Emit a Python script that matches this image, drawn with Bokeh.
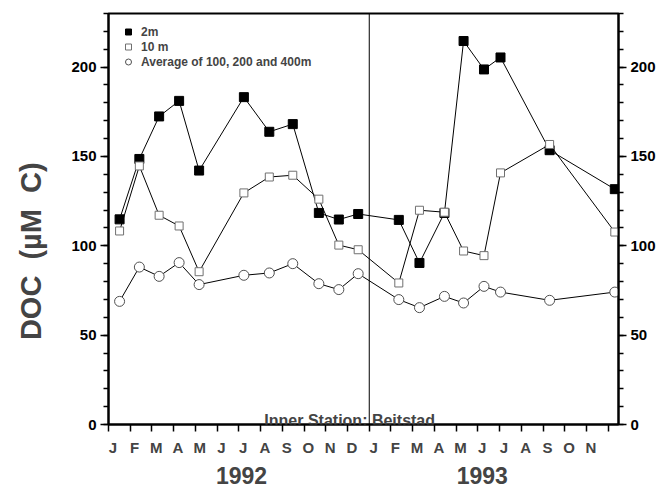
from bokeh.plotting import figure
from bokeh.models import (Range1d, LinearAxis, FixedTicker, CustomJSTickFormatter,
                          Span, Label, Legend, LegendItem)
from bokeh.embed import file_html
from bokeh.resources import INLINE

# ---- data (months counted from 1 Jan 1992) ----
months = [0.51, 1.42, 2.33, 3.25, 4.17, 6.23, 7.40, 8.48, 9.68, 10.60, 11.49,
          13.36, 14.31, 15.46, 16.34, 17.28, 18.04, 20.30, 23.30]
doc_2m = [114.8, 148.6, 172.4, 181.1, 142.1, 183.2, 163.8, 168.1, 118.4, 114.7, 117.8,
          114.5, 90.4, 118.4, 214.6, 198.7, 205.4, 153.5, 131.7]
doc_10m = [108.3, 144.7, 117.1, 111.1, 85.5, 129.6, 138.5, 139.5, 126.1, 100.4, 97.8,
           79.2, 119.9, 118.8, 97.1, 94.5, 140.8, 156.7, 107.7]
doc_deep = [68.9, 88.1, 82.9, 90.6, 78.3, 83.5, 84.8, 90.0, 78.8, 75.5, 84.4,
            69.9, 65.4, 71.7, 68.0, 77.3, 74.1, 69.5, 74.1]

month_labels = ["J", "F", "M", "A", "M", "J", "J", "A", "S", "O", "N", "D",
                "J", "F", "M", "A", "M", "J", "J", "A", "S", "O", "N"]
year_labels = ["1992", "1993"]
year_positions = [6.12, 17.2]
y_major = [0, 50, 100, 150, 200]
y_minor = list(range(0, 231, 10))
series_names = ["2m", "10 m", "Average of 100, 200 and 400m"]
NB = "\u00a0"
y_title = "DOC" + NB * 2 + "(µM" + NB * 2 + "C)" + NB * 8

FONT = "Liberation Sans"

p = figure(width=664, height=488, output_backend="svg", toolbar_location=None,
           x_range=Range1d(0, 23.47), y_range=Range1d(0, 230),
           x_axis_type=None, y_axis_type=None,
           min_border_left=108, min_border_right=46, min_border_top=13, min_border_bottom=64)
p.outline_line_color = "black"
p.outline_line_width = 2
p.background_fill_color = "white"
p.border_fill_color = "white"


def style_y(ax):
    ax.axis_line_width = 2
    ax.major_tick_out = 8
    ax.major_tick_in = 0
    ax.major_tick_line_width = 1.5
    ax.minor_tick_out = 5
    ax.minor_tick_in = 0
    ax.minor_tick_line_width = 1.5
    ax.major_label_standoff = 4
    ax.major_label_text_font = FONT
    ax.major_label_text_font_style = "bold"
    ax.major_label_text_font_size = "15px"
    ax.major_label_text_color = "black"


yl = LinearAxis(ticker=FixedTicker(ticks=y_major, minor_ticks=y_minor),
                axis_label=y_title)
style_y(yl)
yl.axis_label_text_font = FONT
yl.axis_label_text_font_style = "bold"
yl.axis_label_text_font_size = "29px"
yl.axis_label_standoff = 21
p.add_layout(yl, "left")

yr = LinearAxis(ticker=FixedTicker(ticks=y_major, minor_ticks=y_minor))
style_y(yr)
p.add_layout(yr, "right")

xb = LinearAxis(
    ticker=FixedTicker(ticks=[i + 0.2 for i in range(len(month_labels))],
                       minor_ticks=list(range(24))),
    formatter=CustomJSTickFormatter(args=dict(labels=month_labels),
                                    code="const i = Math.round(tick - 0.2); return (i >= 0 && i < labels.length) ? labels[i] : '';"))
xb.axis_line_width = 2
xb.major_tick_out = 0
xb.major_tick_in = 0
xb.minor_tick_out = 7
xb.minor_tick_in = 0
xb.minor_tick_line_width = 1.5
xb.major_label_standoff = 7
xb.major_label_text_font = FONT
xb.major_label_text_font_style = "bold"
xb.major_label_text_font_size = "15px"
p.add_layout(xb, "below")

xy = LinearAxis(
    ticker=FixedTicker(ticks=year_positions),
    formatter=CustomJSTickFormatter(args=dict(years=year_labels),
                                    code="return tick < 12 ? years[0] : years[1];"))
xy.axis_line_color = None
xy.major_tick_line_color = None
xy.minor_tick_line_color = None
xy.major_label_standoff = 2
xy.major_label_text_font = FONT
xy.major_label_text_font_style = "bold"
xy.major_label_text_font_size = "23px"
p.add_layout(xy, "below")

p.add_layout(Span(location=12, dimension="height", line_color="black", line_width=1))

# lines
p.line(months, doc_2m, line_color="black", line_width=1)
p.line(months, doc_10m, line_color="black", line_width=1)
p.line(months, doc_deep, line_color="black", line_width=1)

r2 = p.scatter(months, doc_2m, marker="square", size=9, fill_color="black", line_color="black")
r10 = p.scatter(months, doc_10m, marker="square", size=8, fill_color="white",
                line_color="#707070", line_width=1)
rd = p.scatter(months, doc_deep, marker="circle", size=10, fill_color="white",
               line_color="#505050", line_width=1)

legend = Legend(items=[LegendItem(label=series_names[0], renderers=[r2]),
                       LegendItem(label=series_names[1], renderers=[r10]),
                       LegendItem(label=series_names[2], renderers=[rd])],
                location="top_left")
legend.margin = 11
legend.padding = 0
legend.glyph_width = 18
legend.glyph_height = 15
legend.label_height = 15
legend.spacing = 0
legend.label_standoff = 4
legend.label_text_font = FONT
legend.label_text_font_style = "bold"
legend.label_text_font_size = "12px"
legend.border_line_color = None
legend.background_fill_alpha = 0
p.add_layout(legend)

p.add_layout(Label(x=11.1, y=2.5, text="Inner Station: Beitstad", text_align="center",
                   text_baseline="alphabetic", text_font=FONT, text_font_style="bold",
                   text_font_size="16px"))

open("out.html", "w").write(file_html(p, INLINE))
